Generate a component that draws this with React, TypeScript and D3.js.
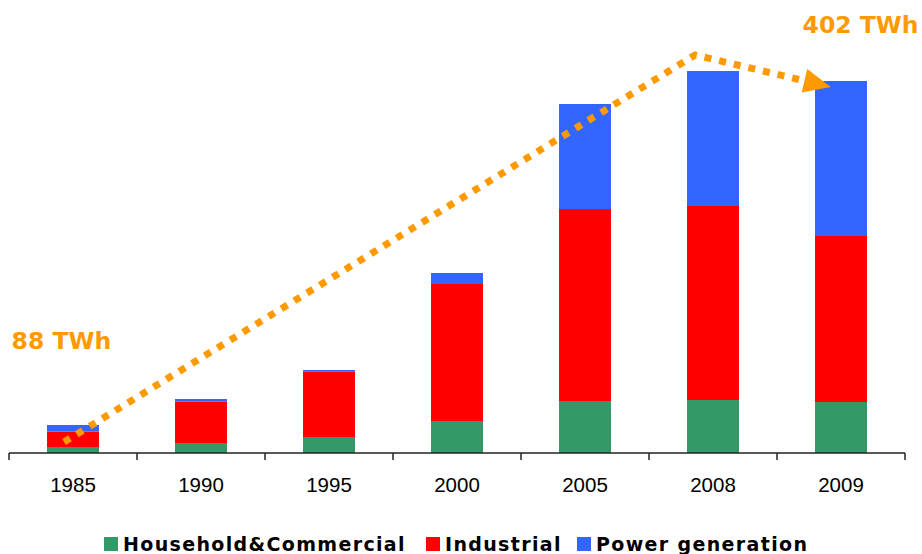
import React from "react";
import * as d3 from "d3";

const categories = ["1985", "1990", "1995", "2000", "2005", "2008", "2009"];
const household = [6, 9.3, 16, 32, 52, 53, 51];
const industrial = [15.3, 42, 65.7, 137, 192, 194, 166];
const powerGen = [6.7, 2.7, 1.3, 11, 105, 135, 155];
const seriesNames = ["Household&Commercial", "Industrial", "Power generation"];
const seriesColors = ["#339966", "#FF0000", "#3366FF"];
// trend arrow: [band index position, value]
const trendPoints: [number, number][] = [[-0.07, 11], [4.86, 398], [5.92, 366]];
const trendLabels = [
  { text: "88 TWh", idx: -0.48, value: 104 },
  { text: "402 TWh", idx: 5.7, value: 420 },
];

const W = 922;
const H = 554;
const ORANGE = "#FF9900";

export default function App() {
  const x = d3.scaleBand<string>().domain(categories).range([9, 905]).padding(0);
  const y = d3.scaleLinear().domain([0, 453]).range([453, 0]);
  const bw = x.bandwidth() * 0.406;
  const idxX = d3.scaleLinear().domain([0, 1]).range([x(categories[0])! + x.bandwidth() / 2, x(categories[1])! + x.bandwidth() / 2]);

  const table = categories.map((c, i) => ({ cat: c, h: household[i], ind: industrial[i], p: powerGen[i] }));
  const stack = d3.stack<any>().keys(["h", "ind", "p"])(table);

  const pts = trendPoints.map(([i, v]) => [idxX(i), y(v)] as [number, number]);
  const tip = pts[pts.length - 1];
  const prev = pts[pts.length - 2];
  const dx = tip[0] - prev[0], dy = tip[1] - prev[1];
  const len = Math.hypot(dx, dy);
  const ux = dx / len, uy = dy / len;
  const headLen = 27, headHalf = 12;
  const base: [number, number] = [tip[0] - ux * headLen, tip[1] - uy * headLen];
  const linePts = [...pts.slice(0, -1), base];
  const lineGen = d3.line();
  const head = [
    tip,
    [base[0] - uy * headHalf, base[1] + ux * headHalf],
    [base[0] + uy * headHalf, base[1] - ux * headHalf],
  ];

  const ticks = [...categories.map((c) => x(c)!), 905];

  const legendItems = [
    { x: 104, tx: 123 },
    { x: 426, tx: 445 },
    { x: 577, tx: 596 },
  ];

  return (
    <svg width={W} height={H} style={{ position: "absolute", left: 0, top: 0, background: "#fff" }}>
      {stack.map((s, si) => (
        <g key={si} fill={seriesColors[si]}>
          {s.map((d, i) => (
            <rect
              key={i}
              x={x(categories[i])! + (x.bandwidth() - bw) / 2}
              y={y(d[1])}
              width={bw}
              height={y(d[0]) - y(d[1])}
            />
          ))}
        </g>
      ))}
      <line x1={9} x2={905} y1={453} y2={453} stroke="#222" strokeWidth={1.5} />
      {ticks.map((t, i) => (
        <line key={i} x1={t} x2={t} y1={453} y2={460} stroke="#222" strokeWidth={1.5} />
      ))}
      {categories.map((c) => (
        <text
          key={c}
          x={x(c)! + x.bandwidth() / 2}
          y={492}
          textAnchor="middle"
          fontFamily="'Liberation Sans', Arial, sans-serif"
          fontSize={20.5}
          fill="#000"
        >
          {c}
        </text>
      ))}
      <path
        d={lineGen(linePts) || ""}
        fill="none"
        stroke={ORANGE}
        strokeWidth={7}
        strokeDasharray="7 8"
        strokeLinejoin="miter"
      />
      <polygon points={head.map((p) => p.join(",")).join(" ")} fill={ORANGE} />
      {trendLabels.map((l) => (
        <text
          key={l.text}
          x={idxX(l.idx)}
          y={y(l.value)}
          fontFamily="'DejaVu Sans', Verdana, sans-serif"
          fontWeight="bold"
          fontSize={23.5}
          fill={ORANGE}
        >
          {l.text}
        </text>
      ))}
      {seriesNames.map((n, i) => (
        <g key={n}>
          <rect x={legendItems[i].x} y={537} width={14} height={14} fill={seriesColors[i]} />
          <text
            x={legendItems[i].tx}
            y={551}
            fontFamily="'DejaVu Sans', Verdana, sans-serif"
            fontWeight="bold"
            fontSize={19}
            letterSpacing={1.35}
            fill="#000"
          >
            {n}
          </text>
        </g>
      ))}
    </svg>
  );
}
